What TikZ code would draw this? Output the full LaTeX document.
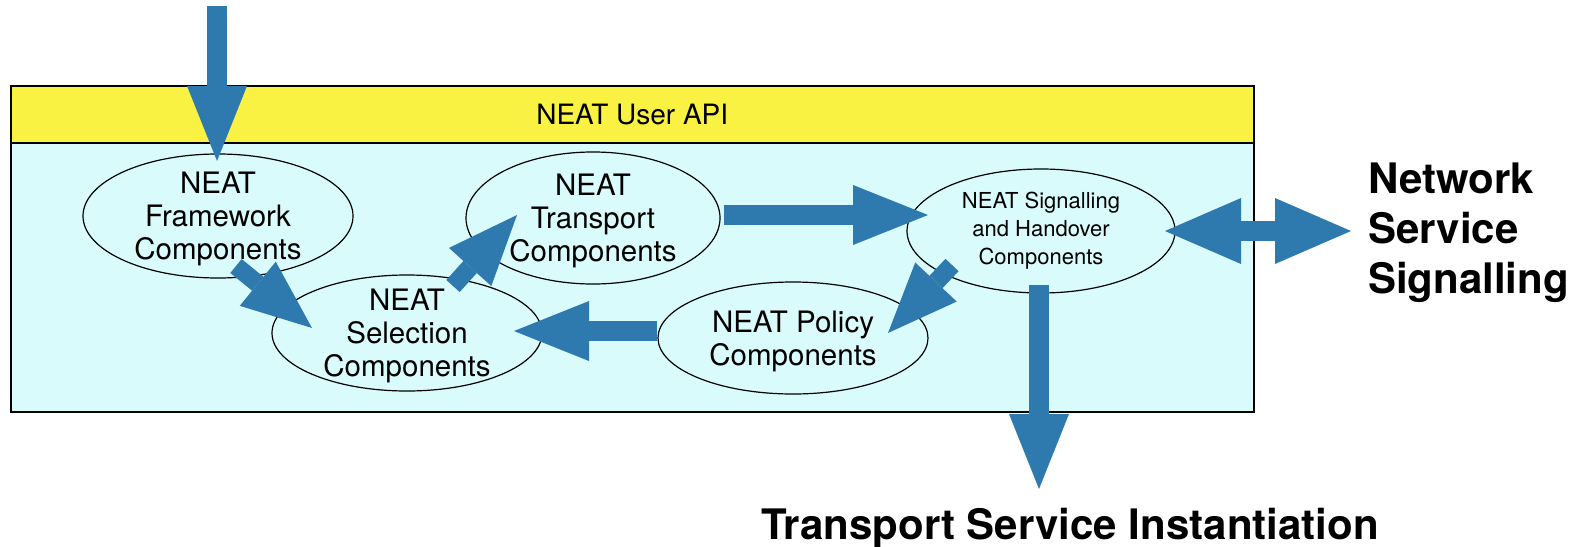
\documentclass[tikz,border=0pt]{standalone}
\usepackage{fontspec}
\setmainfont{TeX Gyre Heros}
\usetikzlibrary{shapes.geometric,arrows.meta,calc}
\definecolor{apiyellow}{HTML}{FAF242}
\definecolor{boxcyan}{HTML}{DAFBFB}
\definecolor{arrowblue}{HTML}{2E7AAE}
\begin{document}
\begin{tikzpicture}[x=1pt,y=-1pt,
  comp/.style={ellipse, draw=black, line width=1.2pt, inner sep=0pt},
  comptext/.style={align=center, yshift=-3pt, font=\fontsize{29.5}{33}\selectfont},
  sigtext/.style={align=center, font=\fontsize{22}{28}\selectfont},
  bigarrow/.style={draw=arrowblue, line width=20pt, -{Triangle[width=60pt,length=75pt,line width=0pt]}},
  diagarrow/.style={draw=arrowblue, line width=18pt, -{Triangle[width=57pt,length=70pt,line width=0pt]}},
  dblarrow/.style={draw=arrowblue, line width=20pt, {Triangle[width=66pt,length=76pt,line width=0pt]}-{Triangle[width=66pt,length=76pt,line width=0pt]}},
  biglabel/.style={font=\fontsize{42}{50}\selectfont\bfseries, inner sep=0pt},
]
\useasboundingbox (0,0) rectangle (1581,546);
% container
\node[anchor=north west, draw=black, line width=1.5pt, fill=boxcyan, minimum width=1243pt, minimum height=269pt, inner sep=0pt] (core) at (10,142) {};
\node[anchor=north west, draw=black, line width=1.5pt, fill=apiyellow, minimum width=1243pt, minimum height=57pt, inner sep=0pt, font=\fontsize{28}{32}\selectfont] (api) at (10,85) {NEAT User API};
% components
\node[comp, minimum width=270pt, minimum height=124pt, label={[comptext]center:NEAT\\Framework\\Components}] (fw) at (218,216) {};
\node[comp, minimum width=254pt, minimum height=132pt, label={[comptext]center:NEAT\\Transport\\Components}] (tr) at (593,218) {};
\node[comp, minimum width=270pt, minimum height=116pt, label={[comptext]center:NEAT\\Selection\\Components}] (sel) at (407,333) {};
\node[comp, minimum width=270pt, minimum height=112pt, label={[comptext]center:NEAT Policy\\Components}] (pol) at (793,338) {};
\node[comp, minimum width=268pt, minimum height=124pt, label={[sigtext]center:NEAT Signalling\\and Handover\\Components}] (sig) at (1041,231) {};
% outside labels
\node[biglabel, anchor=west, align=left] (nss) at (1368,233) {Network\\Service\\Signalling};
\node[biglabel, anchor=base] (tsi) at (1070,539) {Transport Service Instantiation};
\coordinate (userin) at (217,6);
\coordinate (nsstip) at (1351,231);
\coordinate (tsitip) at (1039,489);
% arrows
\draw[bigarrow] (userin) -- ($(fw)+(-1,-55)$);
\draw[diagarrow] ($(fw)+(18,50)$) -- ($(sel)+(-95,-5)$);
\draw[diagarrow] ($(sel)+(46,-47)$) -- ($(tr)+(-76,-3)$);
\draw[bigarrow] ($(tr)+(131,-3)$) -- ($(sig)+(-113,-16)$);
\draw[diagarrow] ($(sig)+(-89,34)$) -- ($(pol)+(95,-5)$);
\draw[bigarrow] ($(pol)+(-136,-7)$) -- ($(sel)+(107,-2)$);
\draw[dblarrow] ($(sig)+(124,0)$) -- (nsstip);
\draw[bigarrow] ($(sig)+(-2,54)$) -- (tsitip);
\end{tikzpicture}
\end{document}
